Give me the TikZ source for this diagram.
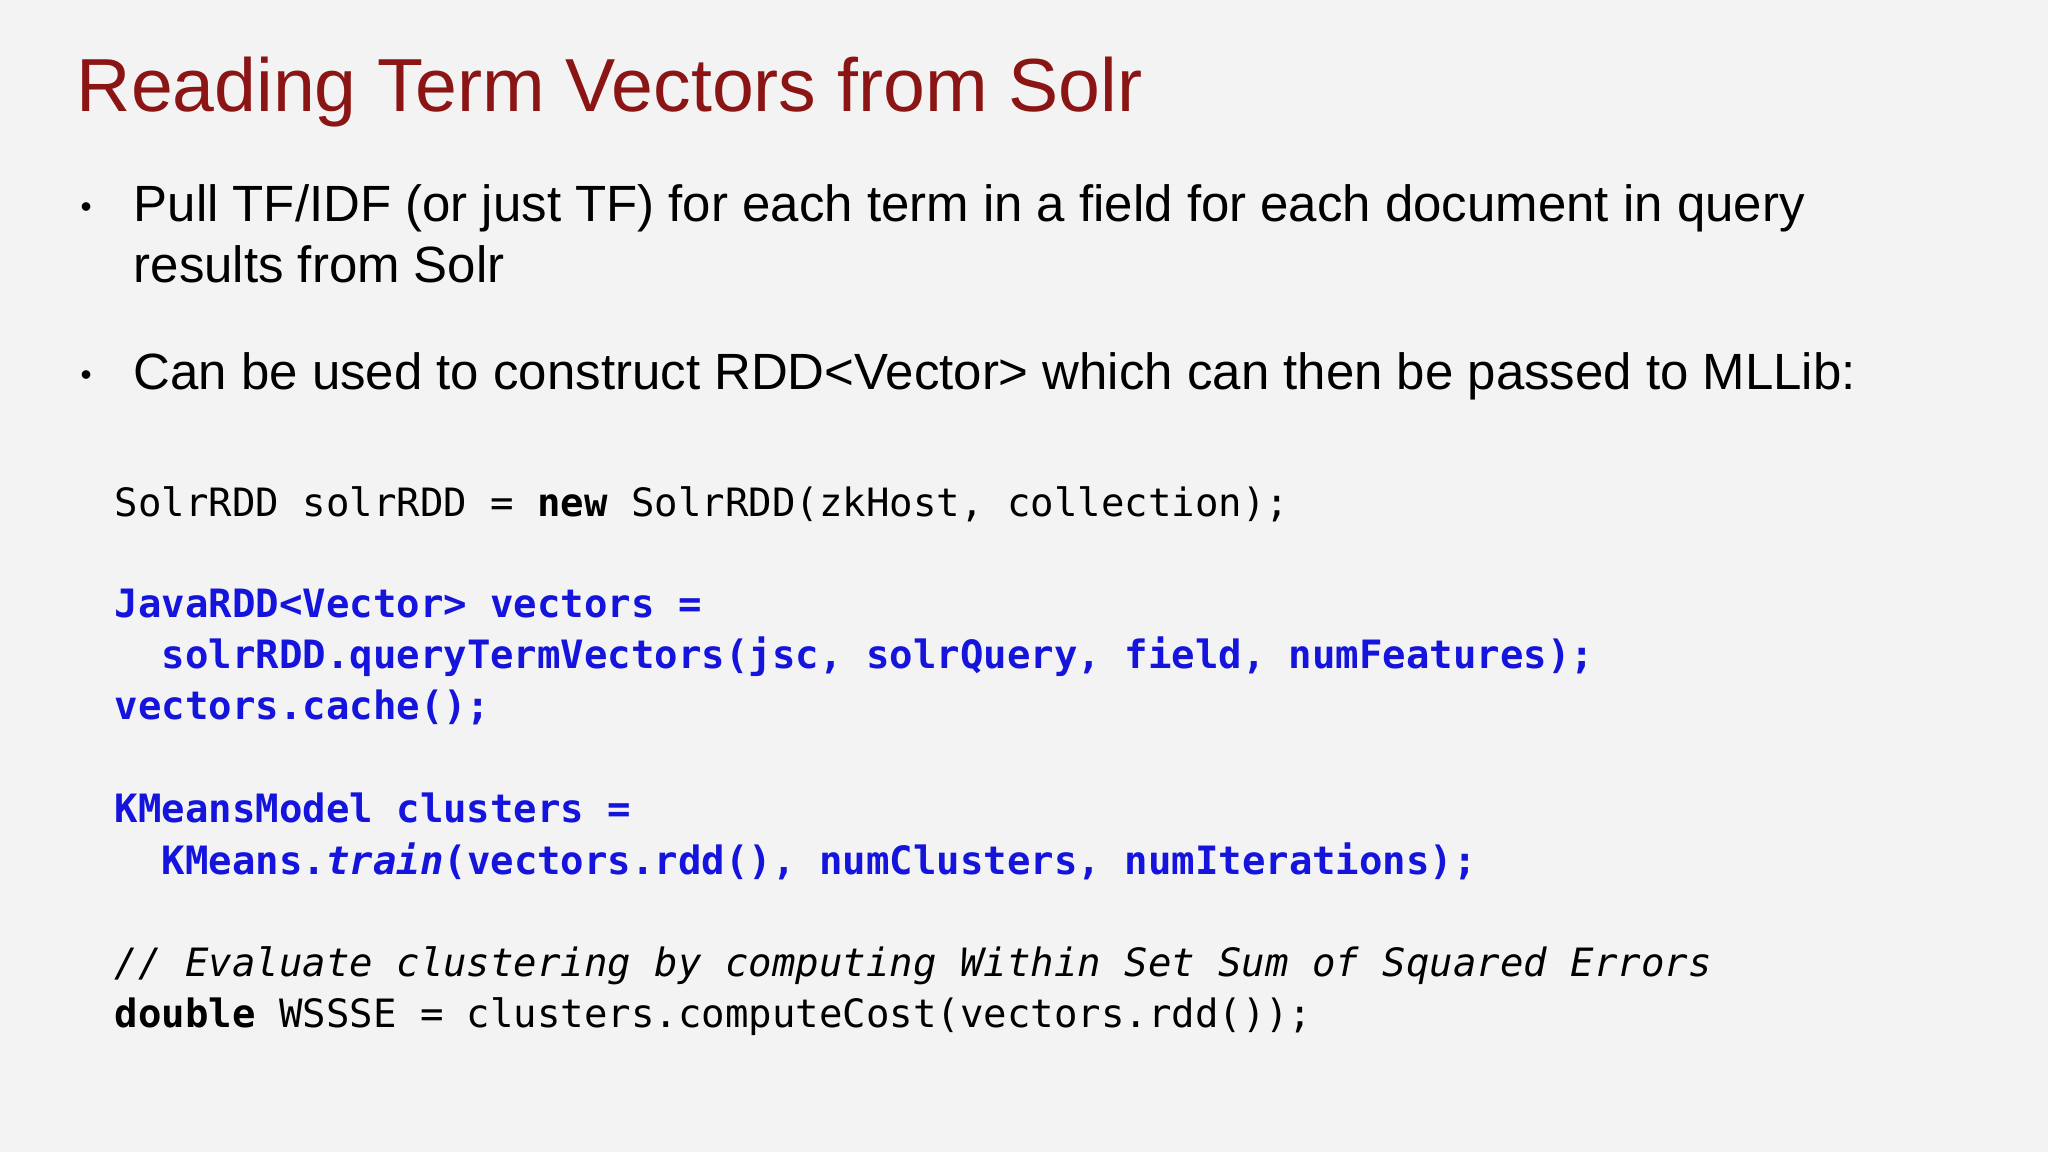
\documentclass[tikz,border=0pt]{standalone}
\usepackage{fontspec}
\setmainfont{Liberation Sans}
\newfontfamily\codefont{DejaVu Sans Mono}
\definecolor{titlered}{RGB}{139,20,20}
\definecolor{codeblue}{RGB}{20,20,220}
\definecolor{bg}{RGB}{243,243,243}
\begin{document}
\begin{tikzpicture}[x=1cm,y=1cm,
  txt/.style={anchor=base west,inner sep=0pt,font=\fontsize{14.5pt}{17pt}\selectfont},
  bul/.style={anchor=base west,inner sep=0pt,font=\fontsize{9pt}{11pt}\selectfont},
  code/.style={anchor=base west,inner sep=0pt,font=\codefont\fontsize{11.1pt}{13pt}\selectfont},
  blu/.style={code,text=codeblue,font=\codefont\bfseries\fontsize{11.1pt}{13pt}\selectfont}]
\fill[bg] (0,0) rectangle (20.48,-11.52);
\useasboundingbox (0,0) rectangle (20.48,-11.52);
\node[anchor=base west,inner sep=0pt,text=titlered,font=\fontsize{21.4pt}{25pt}\selectfont] (title) at (0.76,-1.12) {Reading Term Vectors from Solr};
\node[bul] (b1) at (0.80,-2.18) {\textbullet};
\node[txt] (l1) at (1.33,-2.22) {Pull TF/IDF (or just TF) for each term in a field for each document in query};
\node[txt] (l2) at (1.33,-2.83) {results from Solr};
\node[bul] (b2) at (0.80,-3.86) {\textbullet};
\node[txt] (l3) at (1.33,-3.90) {Can be used to construct RDD<Vector> which can then be passed to MLLib:};
\node[code] (c1) at (1.14,-5.16) {SolrRDD solrRDD = \textbf{new} SolrRDD(zkHost, collection);};
\node[blu] (c2) at (1.14,-6.18) {JavaRDD<Vector> vectors =};
\node[blu] (c3) at (1.61,-6.69) {solrRDD.queryTermVectors(jsc, solrQuery, field, numFeatures);};
\node[blu] (c4) at (1.14,-7.20) {vectors.cache();};
\node[blu] (c5) at (1.14,-8.23) {KMeansModel clusters =};
\node[blu] (c6) at (1.61,-8.74) {KMeans.\textit{train}(vectors.rdd(), numClusters, numIterations);};
\node[code] (c7) at (1.14,-9.76) {\textit{// Evaluate clustering by computing Within Set Sum of Squared Errors}};
\node[code] (c8) at (1.14,-10.27) {\textbf{double} WSSSE = clusters.computeCost(vectors.rdd());};
\end{tikzpicture}
\end{document}
